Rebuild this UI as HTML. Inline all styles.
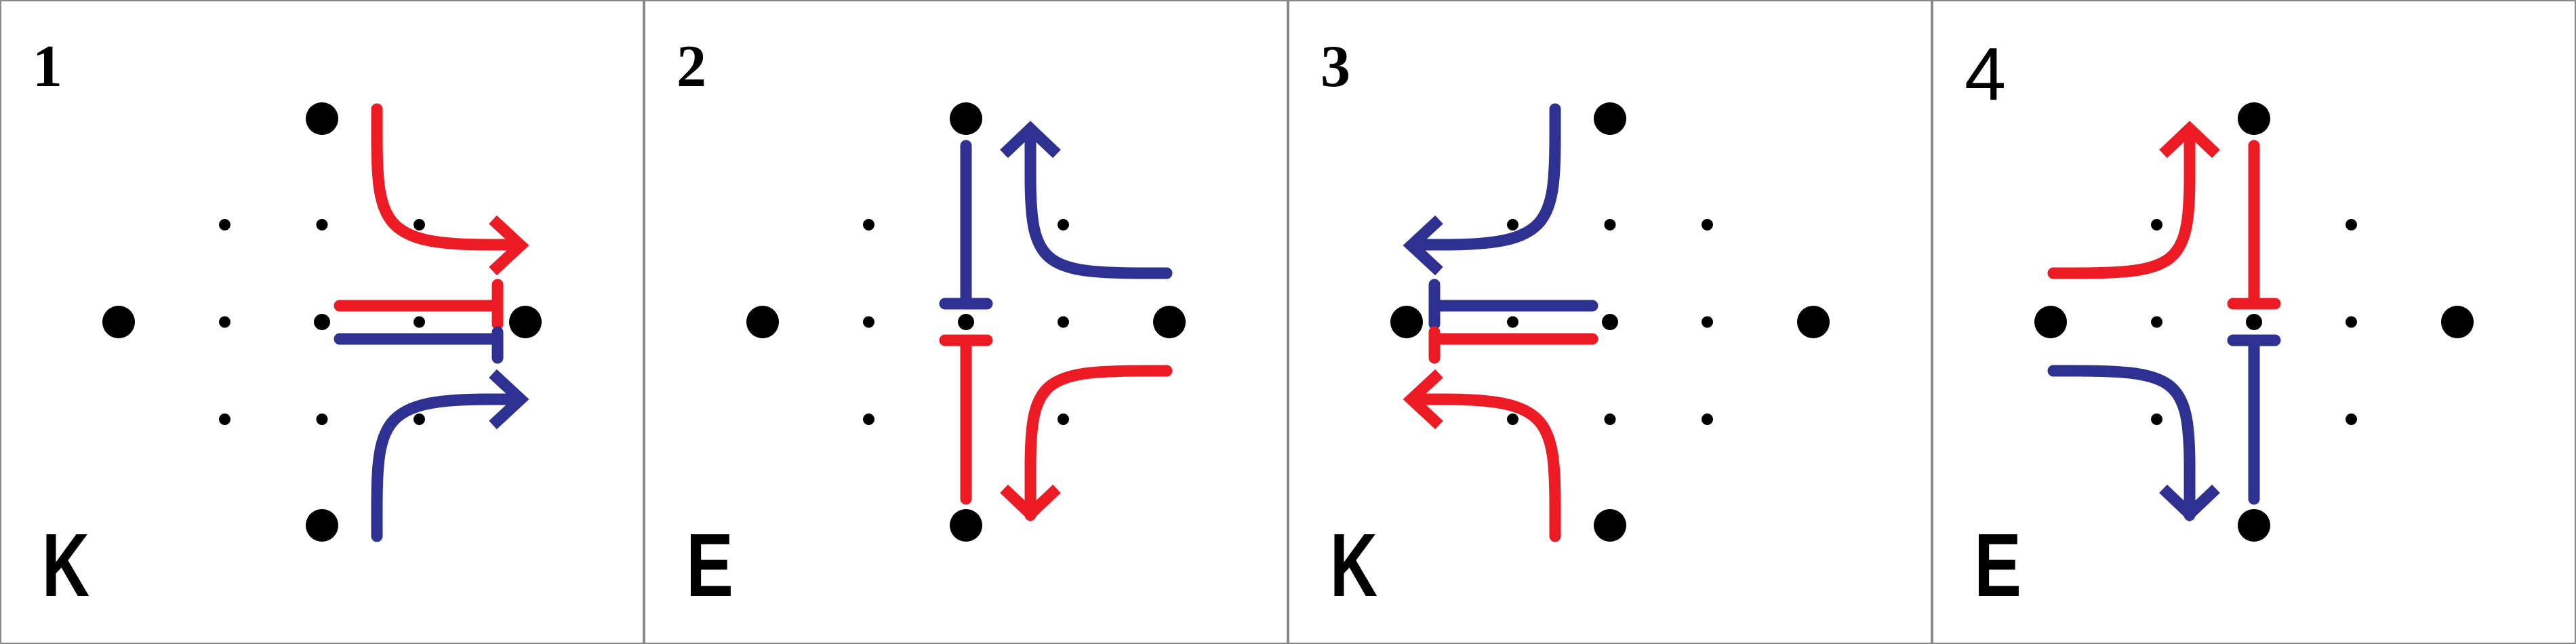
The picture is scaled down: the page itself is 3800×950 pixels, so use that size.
<!DOCTYPE html>
<html><head><meta charset="utf-8">
<style>
html,body{margin:0;padding:0;background:#fff;}
svg{display:block;}
.num{font-family:"Liberation Serif",serif;font-weight:bold;font-size:88px;}
.sans{font-family:"Liberation Sans",sans-serif;font-weight:normal;font-size:110px;}
.lab{font-family:"Liberation Sans",sans-serif;font-weight:bold;font-size:132px;}
</style></head>
<body>
<svg id="fig" width="3800" height="950" viewBox="0 0 3800 950" xmlns="http://www.w3.org/2000/svg">
</svg>
<script>
const panelNumbers = ["1","2","3","4"];
const panelLetters = ["K","E","K","E"];
const panelKinds = ["h","v","h","v"];
const panelMirrored = [false,false,true,true];

const RED = "#ED1C24", BLUE = "#2E3192";
const NS = "http://www.w3.org/2000/svg";
const svg = document.getElementById('fig');
function mk(tag, attrs, parent){
  const e = document.createElementNS(NS, tag);
  for (const k in attrs) e.setAttribute(k, attrs[k]);
  parent.appendChild(e);
  return e;
}
const bigDots = [[475,175],[175,475],[775,475],[475,775]];
const smallGrid = [331.5,475,618.5];

panelNumbers.forEach((num, i) => {
  const g = mk('g', {transform:`translate(${i*950},0)`}, svg);
  
  
  const frame = mk('rect', {x:1, y:1, width:948, height:948, fill:'#fff', stroke:'#888', 'stroke-width':2}, g);
  
  

  const inner = mk('g', {transform: panelMirrored[i] ? 'translate(950,0) scale(-1,1)' : ''}, g);
  let top, bot;
  if (panelKinds[i] === 'h') { top = panelMirrored[i] ? BLUE : RED; }
  else { top = panelMirrored[i] ? RED : BLUE; }
  bot = top === RED ? BLUE : RED;

  bigDots.forEach(p => {
    const c = mk('circle', {cx:p[0], cy:p[1], r:24, fill:'#000'}, inner);
    
    
  });
  smallGrid.forEach(x => smallGrid.forEach(y => {
    const c = mk('circle', {cx:x, cy:y, r:(x===475&&y===475)?12:8.5, fill:'#000'}, inner);
    
    
  }));

  const line = {fill:'none', 'stroke-width':17, 'stroke-linecap':'round'};
  const arrow = {fill:'none', 'stroke-width':17, 'stroke-linejoin':'miter', 'stroke-miterlimit':10};
  let els = [];
  if (panelKinds[i] === 'h') {
    els.push(['top-curve', 'path', Object.assign({d:'M556,161 L556,200 C556,330 566,361 720,361 L760,361', stroke:top}, line)]);
    els.push(['top-arrowhead', 'polyline', Object.assign({points:'727,324 768,362 727,400', stroke:top}, arrow)]);
    els.push(['top-tbar-stem', 'path', Object.assign({d:'M501,451 L733,451', stroke:top}, line)]);
    els.push(['top-tbar-cap', 'path', Object.assign({d:'M734,420 L734,478', stroke:top}, line)]);
    els.push(['bottom-tbar-stem', 'path', Object.assign({d:'M501,500 L733,500', stroke:bot}, line)]);
    els.push(['bottom-tbar-cap', 'path', Object.assign({d:'M734,490 L734,528', stroke:bot}, line)]);
    els.push(['bottom-curve', 'path', Object.assign({d:'M556,791 L556,750 C556,620 566,589 720,589 L760,589', stroke:bot}, line)]);
    els.push(['bottom-arrowhead', 'polyline', Object.assign({points:'727,551 768,589 727,627', stroke:bot}, arrow)]);
  } else {
    els.push(['top-tbar-stem', 'path', Object.assign({d:'M475,215 L475,446', stroke:top}, line)]);
    els.push(['top-tbar-cap', 'path', Object.assign({d:'M444,448 L506,448', stroke:top}, line)]);
    els.push(['top-curve', 'path', Object.assign({d:'M771,403 L740,403 C590,403 570,390 570,260 L570,190', stroke:top}, line)]);
    els.push(['top-arrowhead', 'polyline', Object.assign({points:'531,227 570,190 609,227', stroke:top}, arrow)]);
    els.push(['bottom-tbar-cap', 'path', Object.assign({d:'M444,502 L506,502', stroke:bot}, line)]);
    els.push(['bottom-tbar-stem', 'path', Object.assign({d:'M475,504 L475,736', stroke:bot}, line)]);
    els.push(['bottom-curve', 'path', Object.assign({d:'M771,547 L740,547 C590,547 570,560 570,690 L570,760', stroke:bot}, line)]);
    els.push(['bottom-arrowhead', 'polyline', Object.assign({points:'531,721 570,758 609,721', stroke:bot}, arrow)]);
  }
  els.forEach(([name, tag, a]) => {
    const e = mk(tag, a, inner);
    
    
  });

  const t = mk('text', {x:48, y: num==='4' ? 147 : 127, 'class': num==='4' ? 'sans' : 'num', fill:'#000'}, g);
  t.textContent = num;
  
  
  const l = mk('text', {x:62, y:879, 'class':'lab', fill:'#000', textLength:70, lengthAdjust:'spacingAndGlyphs'}, g);
  l.textContent = panelLetters[i];
  
  
});
</script>
</body></html>
